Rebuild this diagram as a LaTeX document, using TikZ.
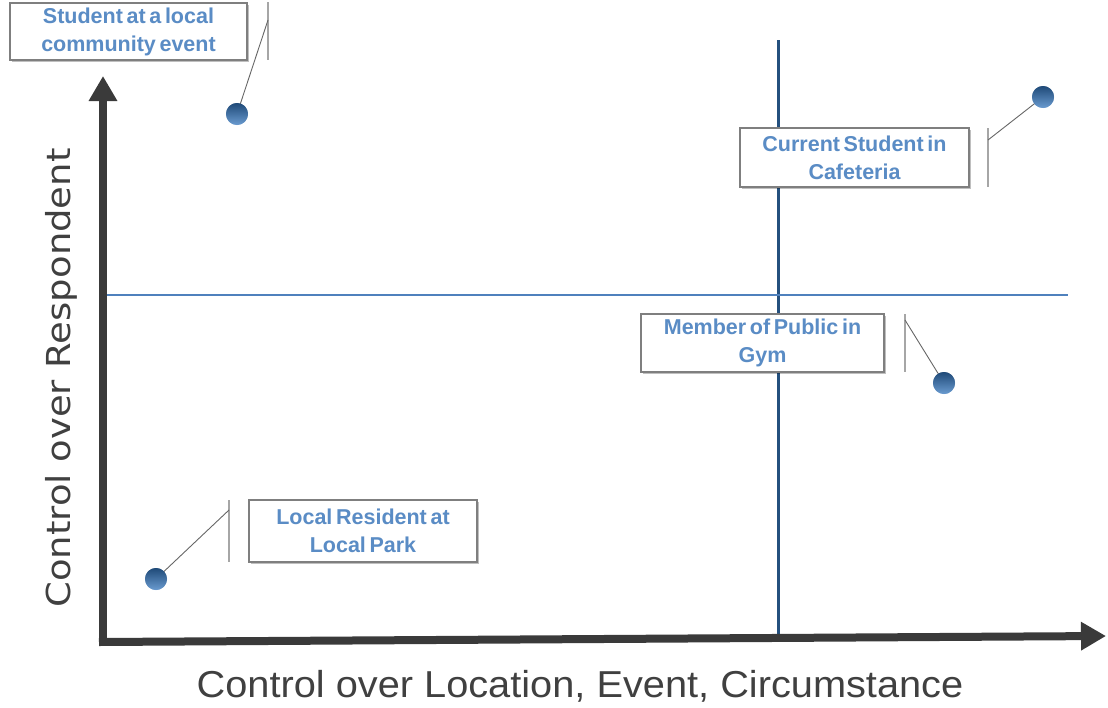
\documentclass[tikz,border=0pt]{standalone}
\usepackage{fontspec}
\setmainfont{Liberation Sans}
\newfontfamily\xfont[FakeStretch=1.06]{Liberation Sans}
\newfontfamily\yfont[FakeStretch=1.12]{DejaVu Sans}
\usetikzlibrary{arrows.meta,shadows}
\definecolor{axisgray}{HTML}{3A3A3A}
\definecolor{labelgray}{HTML}{404040}
\definecolor{vline}{HTML}{24507E}
\definecolor{hline}{HTML}{4F81BD}
\definecolor{txtblue}{HTML}{5A8CC5}
\definecolor{boxgray}{HTML}{7F7F7F}
\definecolor{bargray}{HTML}{A6A6A6}
\definecolor{dotdark}{HTML}{1F4A78}
\definecolor{dotlight}{HTML}{6A9BD0}
\newcommand{\tightwords}{\spaceskip=0.17em plus 0.05em\relax}
\tikzset{
  axisline/.style={draw=axisgray, line width=8pt, -{Triangle[width=27pt,length=25pt]}},
  callout/.style={draw=boxgray, line width=1.3pt, fill=white, align=center,
    font=\fontsize{21.5}{28}\selectfont\bfseries\tightwords, text=txtblue, inner sep=0pt,
    drop shadow={shadow xshift=2pt, shadow yshift=-2pt, opacity=0.25, fill=black}},
  bar/.style={draw=bargray, line width=1.8pt},
  leader/.style={draw=labelgray!80, line width=0.9pt},
  dot/.style={circle, minimum size=22pt, inner sep=0pt, top color=dotdark, bottom color=dotlight, draw=none},
  axislabel/.style={text=labelgray, inner sep=0pt}
}
\begin{document}
\begin{tikzpicture}[x=1pt,y=-1pt]
\useasboundingbox (0,0) rectangle (1108,707);
% quadrant lines
\coordinate (vtop) at (778,40);
\coordinate (vbot) at (778,637);
\draw[vline, line width=3pt] (vtop) -- (vbot);
\coordinate (hleft) at (105,295);
\coordinate (hright) at (1068,295);
\draw[hline, line width=2.2pt] (hleft) -- (hright);
% axes
\coordinate (origin) at (103,642);
\coordinate (ytip) at (103,76);
\coordinate (xtip) at (1106,636);
\draw[axisline] ([yshift=-4pt]origin) -- (ytip);
\draw[axisline] ([xshift=-4pt]origin) -- (xtip);
% axis labels
\node[axislabel, rotate=90, font=\yfont\fontsize{33}{36}\selectfont] (ylab) at (61,378) {Control over Respondent};
\node[axislabel, font=\xfont\fontsize{37.5}{40}\selectfont] (xlab) at (580,686) {Control over Location, Event, Circumstance};
% callouts
\node[callout, minimum width=237pt, minimum height=57pt] (b1) at (128.5,31.5) {Student at a local\\community event};
\node[callout, minimum width=229pt, minimum height=59pt] (b2) at (854.5,157.5) {Current Student in\\Cafeteria};
\node[callout, minimum width=243pt, minimum height=58pt] (b3) at (762.5,343) {Member of Public in\\Gym};
\node[callout, minimum width=228pt, minimum height=62pt] (b4) at (363,531) {Local Resident at\\Local Park};
% dots
\node[dot] (d1) at (237,114) {};
\node[dot] (d2) at (1043,97) {};
\node[dot] (d3) at (944,383) {};
\node[dot] (d4) at (156,579) {};
% bars and leaders
\coordinate (b1t) at (268,2); \coordinate (b1b) at (268,60); \coordinate (b1j) at (268,20);
\draw[bar] (b1t) -- (b1b);
\draw[leader] (b1j) -- (d1.center);
\coordinate (b2t) at (988,128); \coordinate (b2b) at (988,187); \coordinate (b2j) at (988,140);
\draw[bar] (b2t) -- (b2b);
\draw[leader] (b2j) -- (d2.center);
\coordinate (b3t) at (905,314); \coordinate (b3b) at (905,372); \coordinate (b3j) at (905,320);
\draw[bar] (b3t) -- (b3b);
\draw[leader] (b3j) -- (d3.center);
\coordinate (b4t) at (229,500); \coordinate (b4b) at (229,562); \coordinate (b4j) at (229,510);
\draw[bar] (b4t) -- (b4b);
\draw[leader] (b4j) -- (d4.center);
% redraw dots on top
\node[dot] at (d1) {};
\node[dot] at (d2) {};
\node[dot] at (d3) {};
\node[dot] at (d4) {};
\end{tikzpicture}
\end{document}
